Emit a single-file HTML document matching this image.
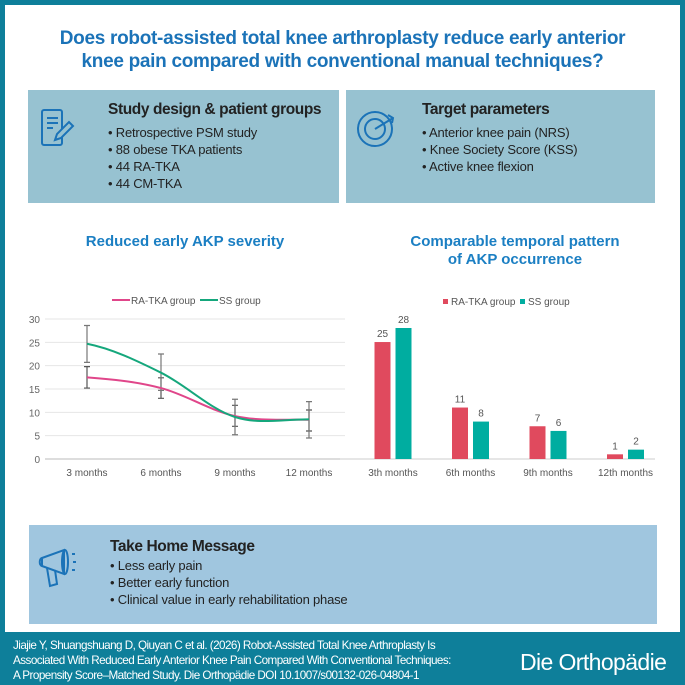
<!DOCTYPE html>
<html><head><meta charset="utf-8"><style>
*{margin:0;padding:0;box-sizing:border-box}
body{width:685px;height:685px;background:#0e7f9a;position:relative;font-family:"Liberation Sans",sans-serif;overflow:hidden}
#inner{position:absolute;left:5px;top:5px;width:675px;height:627px;background:#fff}
.t{position:absolute;white-space:nowrap}
.box{position:absolute;background:#97c2d1}
.h{font-weight:bold;font-size:15.5px;color:#222;letter-spacing:-0.4px}
.li{font-size:13px;color:#222;line-height:17px;letter-spacing:-0.2px}
</style></head><body>
<div id="inner"></div>
<div class="t" style="left:0;width:685px;top:27px;text-align:center;color:#1b73b8;font-weight:bold;font-size:19px;line-height:23px;letter-spacing:-0.3px">Does robot-assisted total knee arthroplasty reduce early anterior<br>knee pain compared with conventional manual techniques?</div>

<div class="box" style="left:28px;top:90px;width:311px;height:113px"></div>
<div class="box" style="left:346px;top:90px;width:309px;height:113px"></div>
<svg class="t" style="left:40px;top:108px" width="40" height="42" viewBox="0 0 40 42"><rect x="2" y="2" width="20" height="35" rx="2" fill="none" stroke="#1b73b8" stroke-width="2"/><path d="M7 10h11M7 15h11M7 20h6" stroke="#1b73b8" stroke-width="2"/><path d="M15 32l2-6 12-12 4 4-12 12z" fill="#97c2d1" stroke="#1b73b8" stroke-width="2"/></svg>
<div class="t h" style="left:108px;top:101px">Study design &amp; patient groups</div>
<div class="t li" style="left:108px;top:124px">• Retrospective PSM study<br>• 88 obese TKA patients<br>• 44 RA-TKA<br>• 44 CM-TKA</div>
<svg class="t" style="left:355px;top:108px" width="46" height="42" viewBox="0 0 46 42"><circle cx="20" cy="21" r="17" fill="none" stroke="#1b73b8" stroke-width="2"/><circle cx="20" cy="21" r="10" fill="none" stroke="#1b73b8" stroke-width="2"/><path d="M20 21L38 10M33 7l5 3-1 5" stroke="#1b73b8" stroke-width="2" fill="none"/></svg>
<div class="t h" style="left:422px;top:101px">Target parameters</div>
<div class="t li" style="left:422px;top:124px">• Anterior knee pain (NRS)<br>• Knee Society Score (KSS)<br>• Active knee flexion</div>

<div class="t" style="left:30px;width:310px;top:233px;text-align:center;color:#1b7fc3;font-weight:bold;font-size:15px">Reduced early AKP severity</div>
<div class="t" style="left:360px;width:310px;top:233px;text-align:center;color:#1b7fc3;font-weight:bold;font-size:15px;line-height:18px">Comparable temporal pattern<br>of AKP occurrence</div>

<svg id="lc" class="t" style="left:0;top:280px" width="345" height="200"></svg>
<svg id="bc" class="t" style="left:340px;top:280px" width="335" height="200"></svg>

<div class="t" style="left:29px;top:525px;width:628px;height:99px;background:#a0c6df"></div>
<svg class="t" style="left:38px;top:546px" width="52" height="46" viewBox="0 0 52 46"><path d="M4 12l22-8v24L4 20z M4 12c-3 1-3 7 0 8" fill="none" stroke="#1b73b8" stroke-width="2"/><ellipse cx="27" cy="16" rx="3" ry="12" fill="none" stroke="#1b73b8" stroke-width="2"/><path d="M9 22l3 18 7-2-2-14" fill="none" stroke="#1b73b8" stroke-width="2"/><path d="M34 8h3M35 16h3M34 24h3" stroke="#1b73b8" stroke-width="2"/></svg>
<div class="t h" style="left:110px;top:538px">Take Home Message</div>
<div class="t li" style="left:110px;top:557px">• Less early pain<br>• Better early function<br>• Clinical value in early rehabilitation phase</div>

<div class="t" style="left:13px;top:638px;color:#fff;font-size:11.7px;line-height:15px;letter-spacing:-0.55px">Jiajie Y, Shuangshuang D, Qiuyan C et al. (2026) Robot-Assisted Total Knee Arthroplasty Is<br>Associated With Reduced Early Anterior Knee Pain Compared With Conventional Techniques:<br>A Propensity Score–Matched Study. Die Orthopädie DOI 10.1007/s00132-026-04804-1</div>
<div class="t" style="left:520px;top:649px;color:#fff;font-size:23px;letter-spacing:-0.6px">Die Orthopädie</div>

<script>
const lineCats=["3 months","6 months","9 months","12 months"];
const raMean=[17.5,15.2,9.2,8.4];
const ssMean=[24.7,18.5,9.0,8.5];
const raLow=[15.2,13.0,7.0,6.0];
const raHigh=[19.8,17.4,11.5,10.5];
const ssLow=[20.7,14.7,5.2,4.5];
const ssHigh=[28.6,22.5,12.8,12.3];
const yTicks=[0,5,10,15,20,25,30];
const barCats=["3th months","6th months","9th months","12th months"];
const raCount=[25,11,7,1];
const ssCount=[28,8,6,2];
const NS="http://www.w3.org/2000/svg";
function mk(svg,tag,attrs,txt){const e=document.createElementNS(NS,tag);for(const k in attrs)e.setAttribute(k,attrs[k]);if(txt!==undefined)e.textContent=txt;svg.appendChild(e);return e;}
const lc=document.getElementById('lc');
const lx=i=>50+74*(i+0.5), ly=v=>179-v*140/30;
yTicks.forEach(v=>{
  const g=mk(lc,'line',{x1:45,x2:345,y1:ly(v),y2:ly(v),stroke:v===0?'#bbb':'#e6e6e6','stroke-width':1});
  
  const t=mk(lc,'text',{x:40,y:ly(v)+4,'text-anchor':'end','font-size':10,fill:'#666'},v);
  
});
lineCats.forEach((c,i)=>{const t=mk(lc,'text',{x:lx(i),y:196,'text-anchor':'middle','font-size':10,fill:'#555'},c);
  });
function smooth(vals){let d='M'+lx(0)+','+ly(vals[0]);for(let i=1;i<vals.length;i++){const x0=lx(i-1),x1=lx(i),y0=ly(vals[i-1]),y1=ly(vals[i]);const yp=ly(vals[Math.max(i-2,0)]),yn=ly(vals[Math.min(i+1,vals.length-1)]);const c1=y0+(y1-yp)/6,c2=y1-(yn-y0)/6;d+=` C${x0+24.7},${c1} ${x1-24.7},${c2} ${x1},${y1}`;}return d;}
function errs(lo,hi,col){lo.forEach((v,i)=>{const x=lx(i);const p=mk(lc,'path',{d:`M${x},${ly(lo[i])}V${ly(hi[i])}M${x-3},${ly(lo[i])}h6M${x-3},${ly(hi[i])}h6`,stroke:col,'stroke-width':1.2,fill:'none'});
  });}
errs(raLow,raHigh,'#555');errs(ssLow,ssHigh,'#777');
const pr=mk(lc,'path',{d:smooth(raMean),stroke:'#e0468a','stroke-width':2,fill:'none'});

const ps=mk(lc,'path',{d:smooth(ssMean),stroke:'#15a77c','stroke-width':2,fill:'none'});

[[112,'#e0468a','RA-TKA group'],[200,'#15a77c','SS group']].forEach(([x,c,l])=>{
  const g=mk(lc,'g',{});
  mk(g,'line',{x1:x,x2:x+18,y1:20,y2:20,stroke:c,'stroke-width':2});
  mk(g,'text',{x:x+19,y:24,'font-size':10,fill:'#555'},l);});
const bc=document.getElementById('bc');
const bx=i=>53+77.5*i, by=v=>179-v*131/28;
mk(bc,'line',{x1:0,x2:315,y1:179,y2:179,stroke:'#ccc','stroke-width':1});
barCats.forEach((c,i)=>{
  [[raCount[i],-18.5,'#e04a5e','bar-ra-tka'],[ssCount[i],2.5,'#00ada0','bar-ss']].forEach(([v,off,col,nm])=>{
    const r=mk(bc,'rect',{x:bx(i)+off,y:by(v),width:16,height:179-by(v),fill:col});
    
    const t=mk(bc,'text',{x:bx(i)+off+8,y:by(v)-5,'text-anchor':'middle','font-size':10,fill:'#555'},v);
    });
  const t=mk(bc,'text',{x:bx(i),y:196,'text-anchor':'middle','font-size':10,fill:'#555'},c);
  });
[[103,'#e04a5e','RA-TKA group'],[180,'#00ada0','SS group']].forEach(([x,c,l])=>{
  const g=mk(bc,'g',{});
  mk(g,'rect',{x:x,y:19,width:5,height:5,fill:c});
  mk(g,'text',{x:x+8,y:25,'font-size':10,fill:'#555'},l);});
</script>
</body></html>
